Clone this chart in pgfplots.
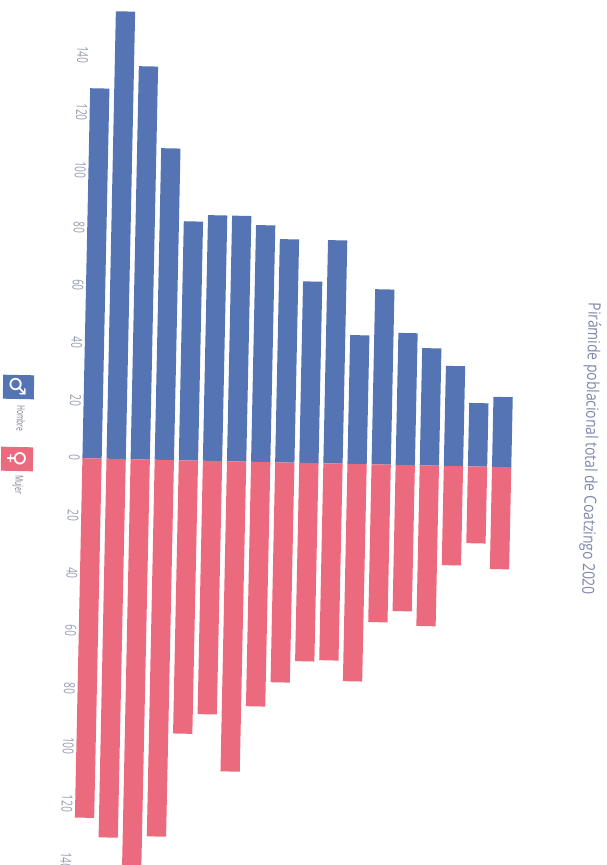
\documentclass[border=0pt]{standalone}
\usepackage{fontspec}
\setmainfont{Open Sans}
\newfontfamily\titlef[FakeStretch=0.83]{Open Sans}
\newfontfamily\tickf[FakeStretch=0.66]{Open Sans}
\newfontfamily\legf[FakeStretch=0.6]{Open Sans}
\newfontfamily\symf{DejaVu Sans}
\usepackage{pgfplots}
\pgfplotsset{compat=1.18}
\definecolor{hombre}{RGB}{85,116,180}
\definecolor{mujer}{RGB}{236,106,126}
\definecolor{titlec}{RGB}{125,135,170}
\definecolor{tickc}{RGB}{150,155,175}
\begin{document}
\begin{tikzpicture}[x=1pt,y=1pt]
\path[use as bounding box] (0,0) rectangle (607,865);
\clip (0,0) rectangle (607,865);
\begin{scope}[rotate around={-1.2:(80,406.85)}]
\begin{axis}[
  anchor=origin, at={(80pt,406.85pt)},
  x=24.1pt, y=2.88pt,
  xmin=0.5, xmax=18.5, ymin=-145, ymax=160,
  axis line style={draw=none}, tick style={draw=none},
  xtick=\empty,
  ytick={-140,-120,-100,-80,-60,-40,-20,0,20,40,60,80,100,120,140},
  yticklabels={140,120,100,80,60,40,20,0,20,40,60,80,100,120,140},
  yticklabel style={rotate=-91.2, anchor=north, inner sep=0pt, font=\tickf\fontsize{15}{15}\selectfont, text=tickc},
  /pgf/number format/assume math mode=true,
  ybar, bar shift=0pt, bar width=0.8,
  clip=false,
]
\addplot[draw=none, fill=hombre] coordinates {
(1,128.5) (2,155.4) (3,136.5) (4,108.2) (5,83) (6,85.3) (7,85.3) (8,82.2) (9,77.5)
(10,63) (11,77.5) (12,44.7) (13,60.8) (14,45.8) (15,40.7) (16,34.7) (17,22) (18,24.3)
};
\addplot[draw=none, fill=mujer] coordinates {
(1,-124.8) (2,-131.5) (3,-141) (4,-130.8) (5,-94.9) (6,-88) (7,-107.7) (8,-84.9) (9,-76.4)
(10,-68.9) (11,-68.4) (12,-75.5) (13,-54.8) (14,-50.8) (15,-55.8) (16,-34.5) (17,-26.7) (18,-35.5)
};
\end{axis}
\end{scope}
\node[rotate=-91.3, text=titlec, font=\titlef\fontsize{16.7}{17}\selectfont] at (590,416) {Pirámide poblacional total de Coatzingo 2020};
\fill[hombre, rotate around={-1.2:(18.5,478)}] (3,466) rectangle (34,490);
\node[rotate=-136, text=white, font=\symf\fontsize{22}{22}\selectfont, inner sep=0pt] at (18.5,478) {\rotatebox{45}{\char"2642}};
\fill[mujer, rotate around={-1.2:(17,406)}] (1,394) rectangle (33,418);
\node[rotate=-91.2, text=white, font=\symf\fontsize{22}{22}\selectfont, inner sep=0pt] at (17,406) {\char"2640};
\node[rotate=-91.2, text=tickc!80!black, font=\legf\fontsize{11}{11}\selectfont, inner sep=0pt] at (21,446.5) {Hombre};
\node[rotate=-91.2, text=tickc!80!black, font=\legf\fontsize{11}{11}\selectfont, inner sep=0pt] at (18,380) {Mujer};
\end{tikzpicture}
\end{document}
